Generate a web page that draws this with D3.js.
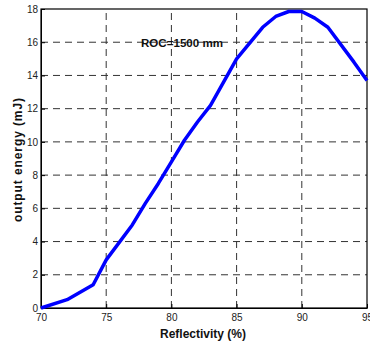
<!DOCTYPE html>
<html><head><meta charset="utf-8">
<script src="https://cdn.jsdelivr.net/npm/d3@7"></script>
<style>body{margin:0;background:#fff;}svg{display:block;}</style>
</head><body>
<script>
const reflectivity = [70, 72, 74, 75, 77, 78, 79, 80, 81, 82, 83, 85, 87, 88, 89, 90, 91, 92, 94, 95];
const energy       = [0, 0.5, 1.4, 2.9, 5.0, 6.3, 7.5, 8.8, 10.1, 11.2, 12.2, 15.0, 16.9, 17.55, 17.85, 17.85, 17.45, 16.9, 14.8, 13.7];
const xTicks = [70, 75, 80, 85, 90, 95];
const yTicks = [0, 2, 4, 6, 8, 10, 12, 14, 16, 18];
const annotation = "ROC=1500 mm";
const xLabel = "Reflectivity (%)";
const yLabel = "output energy (mJ)";

const W = 370, H = 345;
const m = {left: 41, top: 9, right: 3, bottom: 37};
const FONT = "Liberation Sans, Arial, sans-serif";
const svg = d3.select("body").append("svg").attr("width", W).attr("height", H);
const x = d3.scaleLinear().domain([70, 95]).range([m.left, W - m.right]);
const y = d3.scaleLinear().domain([0, 18]).range([H - m.bottom, m.top]);

// grid
const g = svg.append("g");
g.selectAll(".vg").data(xTicks.slice(1, -1)).join("line")
  .attr("x1", d => x(d)).attr("x2", d => x(d)).attr("y1", y(0)).attr("y2", y(18))
  .attr("stroke", "#333").attr("stroke-width", 1).attr("stroke-dasharray", "7,5");
g.selectAll(".hg").data(yTicks.slice(1, -1)).join("line")
  .attr("y1", d => y(d)).attr("y2", d => y(d)).attr("x1", x(70)).attr("x2", x(95))
  .attr("stroke", "#333").attr("stroke-width", 1).attr("stroke-dasharray", "7,5");

// axes
const xa = svg.append("g").attr("transform", `translate(0,${y(0)})`)
  .call(d3.axisBottom(x).tickValues(xTicks).tickSizeInner(-4).tickSizeOuter(0).tickPadding(6));
const ya = svg.append("g").attr("transform", `translate(${x(70)},0)`)
  .call(d3.axisLeft(y).tickValues(yTicks).tickSizeInner(-4).tickSizeOuter(0).tickPadding(3));
[xa, ya].forEach(a => {
  a.selectAll("text").attr("font-family", FONT).attr("font-size", 10).attr("fill", "#222");
  a.selectAll("line").attr("stroke", "#000");
  a.select(".domain").attr("stroke", "#000");
});
// box
svg.append("rect").attr("x", x(70)).attr("y", y(18)).attr("width", x(95) - x(70)).attr("height", y(0) - y(18))
  .attr("fill", "none").attr("stroke", "#000").attr("stroke-width", 1.2);

// line
svg.append("path").datum(reflectivity.map((r, i) => [r, energy[i]]))
  .attr("d", d3.line().x(d => x(d[0])).y(d => y(d[1])))
  .attr("fill", "none").attr("stroke", "#0000ff").attr("stroke-width", 3.5).attr("stroke-linejoin", "round");

// annotation
svg.append("text").attr("x", 141).attr("y", 47).text(annotation)
  .attr("font-family", FONT).attr("font-weight", "bold").attr("font-size", 11.5)
  .attr("textLength", 82).attr("lengthAdjust", "spacingAndGlyphs").attr("fill", "#111");

// labels
svg.append("text").attr("x", 160).attr("y", 338).text(xLabel)
  .attr("font-family", FONT).attr("font-weight", "bold").attr("font-size", 12)
  .attr("textLength", 86).attr("lengthAdjust", "spacingAndGlyphs").attr("fill", "#111");
svg.append("text").attr("transform", "translate(22,222) rotate(-90)").text(yLabel)
  .attr("font-family", FONT).attr("font-weight", "bold").attr("font-size", 12)
  .attr("textLength", 124).attr("lengthAdjust", "spacing").attr("fill", "#111");
</script>
</body></html>
